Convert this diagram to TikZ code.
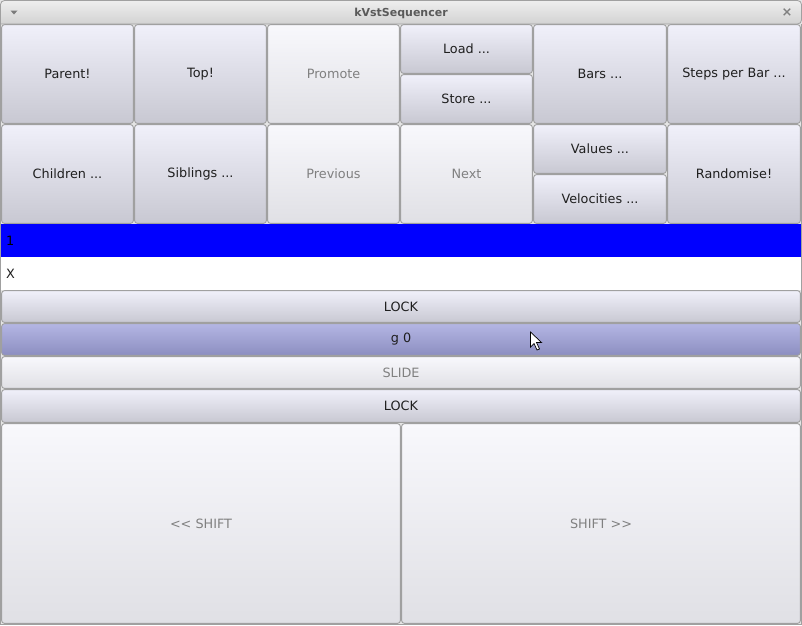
\documentclass[tikz,border=0pt]{standalone}
\usepackage{fontspec}
\setmainfont{DejaVu Sans}
\definecolor{bord}{HTML}{A0A0A0}
\definecolor{btop}{HTML}{F0F0FA}
\definecolor{bbot}{HTML}{C8C8D2}
\definecolor{dtop}{HTML}{F8F8FC}
\definecolor{dbot}{HTML}{E0E0E5}
\definecolor{htop}{HTML}{B4B6E4}
\definecolor{hbot}{HTML}{8C8EC0}
\definecolor{dtext}{HTML}{808080}
\definecolor{ttl}{HTML}{5A5A5A}
\definecolor{tbtop}{HTML}{EEEEEE}
\definecolor{tbbot}{HTML}{D2D2D2}
\tikzset{
  btnbase/.style={draw=bord, line width=0.9pt, rounded corners=3pt, inner sep=0pt, outer sep=0pt,
    font=\fontsize{12.8}{15}\selectfont, text=black!88},
  btn/.style={btnbase, top color=btop, bottom color=bbot},
  dbtn/.style={btnbase, top color=dtop, bottom color=dbot, text=dtext},
  hbtn/.style={btnbase, top color=htop, bottom color=hbot},
  rowtxt/.style={anchor=west, inner sep=0pt, font=\fontsize{12.8}{15}\selectfont, text=black!88}
}
% \cell{name}{x0}{y0}{x1}{y1}{style}{text}
\newcommand\cell[7]{%
  \node[#6, minimum width={(#4-#2-1.2)*1pt}, minimum height={(#5-#3-1.2)*1pt}]
    (#1) at ({(#2+#4)/2*1pt},{-(#3+#5)/2*1pt}) {#7};}
\begin{document}
\begin{tikzpicture}[x=1pt,y=-1pt]
\useasboundingbox (0,0) rectangle (802,625);
% window background
\fill[white!90!black] (0,0) rectangle (802,625);
\draw[bord, line width=1pt] (0.5,24) -- (0.5,624.5) -- (801.5,624.5) -- (801.5,24);
% title bar
\path[draw=bord, line width=0.8pt, top color=tbtop, bottom color=tbbot, rounded corners=4pt]
  (0.5,24) -- (0.5,0.5) -- (801.5,0.5) -- (801.5,24) [sharp corners] -- cycle;
\node[font=\fontsize{11}{13}\selectfont\bfseries, text=ttl, inner sep=0pt] (title) at (401,13) {kVstSequencer};
\fill[ttl!80] (10.5,10.5) -- (17.5,10.5) -- (14,14.5) -- cycle;
\node[font=\fontsize{13}{14}\selectfont\bfseries, text=gray, inner sep=0pt] (close) at (787,13) {×};
% top grid
\cell{parent}{1}{24}{134}{124}{btn}{Parent!}
\cell{top}{134}{24}{267}{124}{btn}{Top!}
\cell{promote}{267}{24}{400}{124}{dbtn}{Promote}
\cell{load}{400}{24}{533}{74}{btn}{Load ...}
\cell{store}{400}{74}{533}{124}{btn}{Store ...}
\cell{bars}{533}{24}{667}{124}{btn}{Bars ...}
\cell{steps}{667}{24}{801}{124}{btn}{Steps per Bar ...}
\cell{children}{1}{124}{134}{224}{btn}{Children ...}
\cell{siblings}{134}{124}{267}{224}{btn}{Siblings ...}
\cell{previous}{267}{124}{400}{224}{dbtn}{Previous}
\cell{next}{400}{124}{533}{224}{dbtn}{Next}
\cell{values}{533}{124}{667}{174}{btn}{Values ...}
\cell{velocities}{533}{174}{667}{224}{btn}{Velocities ...}
\cell{randomise}{667}{124}{801}{224}{btn}{Randomise!}
% selection row
\fill[blue] (1,224) rectangle (801,257);
\node[rowtxt, text=black] (one) at (6,240.5) {1};
\fill[white] (1,257) rectangle (801,290);
\node[rowtxt] (x) at (6,273.5) {X};
% wide buttons
\cell{lock1}{1}{290}{801}{323}{btn}{LOCK}
\cell{g0}{1}{323}{801}{356}{hbtn}{g 0}
\cell{slide}{1}{356}{801}{389}{dbtn}{SLIDE}
\cell{lock2}{1}{389}{801}{423}{btn}{LOCK}
\cell{shiftl}{1}{423}{401}{624}{dbtn}{{<}{<} SHIFT}
\cell{shiftr}{401}{423}{801}{624}{dbtn}{SHIFT {>}{>}}
% mouse pointer
\draw[black, fill=white, line width=0.7pt, line join=miter]
  (530.5,332) -- (530.5,347) -- (534,343.5) -- (537,350) -- (539.5,349) -- (536.5,342.5) -- (541.5,342.5) -- cycle;
\end{tikzpicture}
\end{document}
